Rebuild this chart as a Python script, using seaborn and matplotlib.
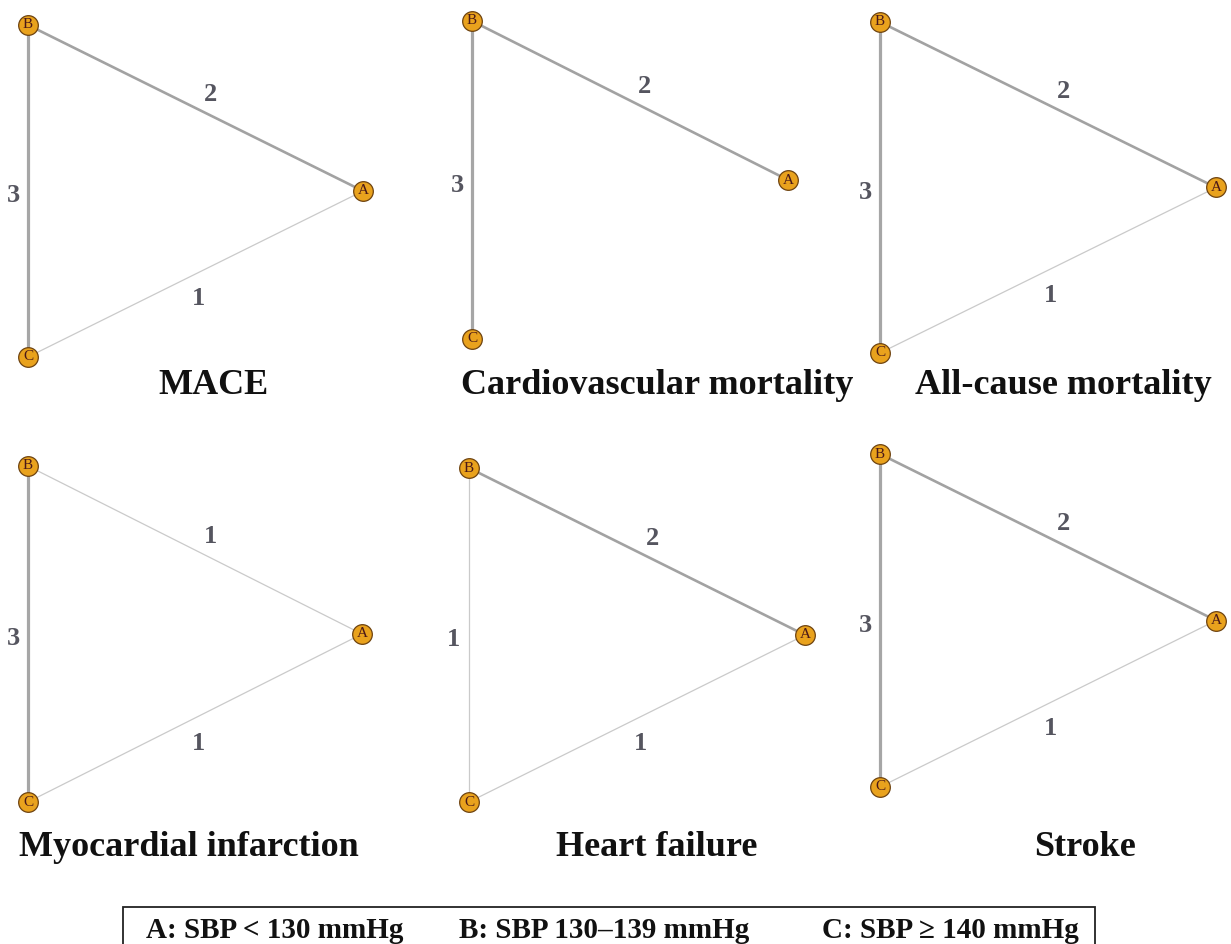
import matplotlib.pyplot as plt
import numpy as np
import pandas as pd
import seaborn as sns
from matplotlib.patches import Rectangle

sns.set_theme(style='white')
plt.rcParams['font.family'] = ['Liberation Serif', 'DejaVu Serif']

W, H = 1231, 944

#### DATA ####
nodes = ['A', 'B', 'C']
node_x = [1.0, 0.0, 0.0]
node_y = [0.5, 1.0, 0.0]
edge_pairs = [('A', 'B'), ('B', 'C'), ('A', 'C')]

titles = ['MACE', 'Cardiovascular mortality', 'All-cause mortality',
          'Myocardial infarction', 'Heart failure', 'Stroke']
# number of studies per comparison (A-B, B-C, A-C); 0 = no direct comparison
mace = [2, 3, 1]
cv_mortality = [2, 3, 0]
all_cause = [2, 3, 1]
mi = [1, 3, 1]
heart_failure = [2, 1, 1]
stroke = [2, 3, 1]
weights = [mace, cv_mortality, all_cause, mi, heart_failure, stroke]

legend_items = ['A: SBP < 130 mmHg', 'B: SBP 130\u2013139 mmHg', 'C: SBP \u2265 140 mmHg']

#### LAYOUT (pixels: left, right, top, bottom of the node triangle) ####
boxes = [(28, 363, 25, 357), (472, 788, 21, 339), (880, 1216, 22, 353),
         (28, 362, 466, 802), (469, 805, 468, 802), (880, 1216, 454, 787)]
title_pos = [(213, 386), (657, 386), (1063, 386),
             (189, 847), (657, 847), (1085, 847)]

edge_style = {1: dict(color='#cacaca', lw=0.9),
              2: dict(color='#a2a2a2', lw=1.9),
              3: dict(color='#a6a6a6', lw=2.3)}
# position along edge and label offset in pixels
label_rule = {('A', 'B'): (0.54, (2, 20)),
              ('B', 'C'): (0.5, (-15, -5)),
              ('A', 'C'): (0.5, (3, -25))}

pos = pd.DataFrame({'node': nodes, 'x': node_x, 'y': node_y}).set_index('node')

fig = plt.figure(figsize=(W / 100, H / 100), dpi=100)

for title, w, box, tp in zip(titles, weights, boxes, title_pos):
    l, r, t, b = box
    ax = fig.add_axes([l / W, 1 - b / H, (r - l) / W, (b - t) / H])
    ax.set_xlim(0, 1)
    ax.set_ylim(0, 1)
    ax.axis('off')

    for (n1, n2), k in zip(edge_pairs, w):
        if k == 0:
            continue
        seg = pos.loc[[n1, n2]].reset_index()
        sns.lineplot(data=seg, x='x', y='y', sort=False, estimator=None,
                     ax=ax, clip_on=False, solid_capstyle='butt', **edge_style[k])
        frac, off = label_rule[(n1, n2)]
        p1, p2 = pos.loc[n1].values, pos.loc[n2].values
        if n1 == 'A':
            p1, p2 = p2, p1
        mid = p1 + frac * (p2 - p1)
        ax.annotate(str(k), xy=mid, xytext=off, textcoords='offset pixels',
                    ha='center', va='center', fontsize=19, fontweight='bold',
                    color='#55555f', annotation_clip=False)

    sns.scatterplot(data=pos.reset_index(), x='x', y='y', ax=ax, s=200,
                    color='#E9A21D', edgecolor='#6e4310', linewidth=0.9,
                    clip_on=False, zorder=5, legend=False)
    for n, row in pos.iterrows():
        ax.text(row['x'], row['y'], n, ha='center', va='center', fontsize=11,
                color='#4a1818', zorder=6, clip_on=False)

    fig.text(tp[0] / W, 1 - tp[1] / H, title, ha='center', va='center',
             fontsize=26, fontweight='bold', color='#111111')

# legend box
fig.patches.append(Rectangle((123 / W, 1 - 960 / H), (1095 - 123) / W, 53 / H,
                             transform=fig.transFigure, fill=False,
                             edgecolor='#222222', lw=1.3))
for txt, x in zip(legend_items, [275, 604, 950]):
    fig.text(x / W, 1 - 930 / H, txt, ha='center', va='center',
             fontsize=21, fontweight='bold', color='#111111')

fig.savefig('out.png', dpi=100)
